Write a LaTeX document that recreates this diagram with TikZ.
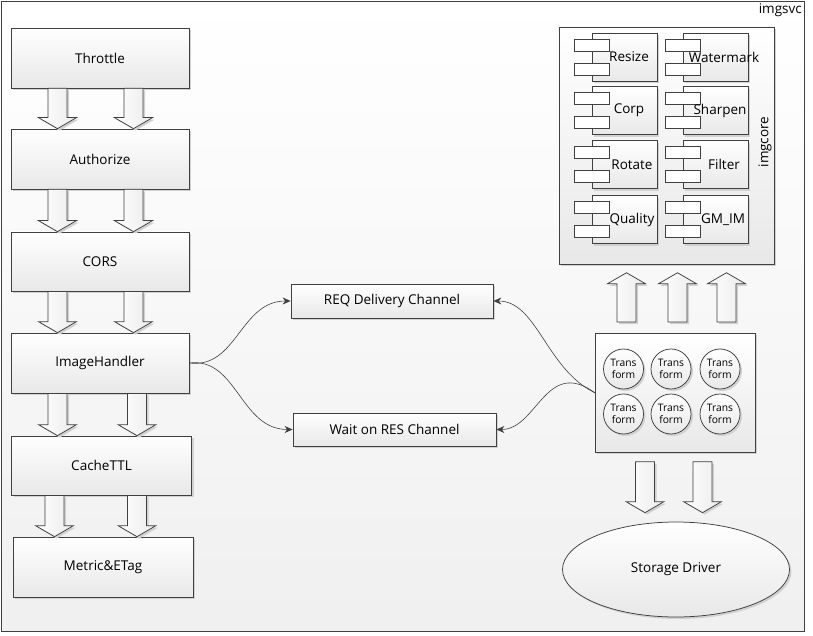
\documentclass[tikz,border=0pt]{standalone}
\usepackage{fontspec}
\setmainfont{Open Sans}
\usetikzlibrary{calc,shadows,shapes.geometric,arrows.meta}
\newcommand\mainfs{\fontsize{13.5}{16}\selectfont}
\tikzset{
  boxfill/.style={top color=white,bottom color=black!9},
  boxline/.style={draw=black!75,line width=0.75pt},
  shad/.style={general shadow={shadow xshift=2pt,shadow yshift=-2pt,fill=black!18}},
  blockbox/.style={boxline,boxfill,shad,rectangle,inner sep=0pt,font=\mainfs},
  chanbox/.style={boxline,boxfill,shad,rectangle,inner sep=0pt,font=\mainfs},
  compbody/.style={boxline,boxfill,shad,rectangle,inner sep=0pt,minimum width=65pt,minimum height=48pt,anchor=north west},
  comptab/.style={boxline,fill=white,rectangle,inner sep=0pt,minimum width=35pt,minimum height=12pt,anchor=north west},
  complabel/.style={inner sep=0pt,font=\mainfs},
  tfcircle/.style={boxline,boxfill,shad,circle,minimum size=40pt,inner sep=0pt,align=center,font=\fontsize{10.3}{12}\selectfont},
  fat/.style={draw=black!75,line width=0.75pt,left color=white,right color=black!8,shad},
  conn/.style={draw=black!75,line width=0.6pt,-{Stealth[length=8pt,width=7pt]}},
}
% fat arrow downward: #1 x, #2 upper node, #3 lower node, #4 gap top, #5 gap bottom
\newcommand\fatdown[5]{%
  \path[fat] let \p1=(#2.south), \p2=(#3.north) in
    ({#1pt-9.5pt},{\y1-#4pt}) -- ({#1pt+9.5pt},{\y1-#4pt}) -- ({#1pt+9.5pt},{\y2+#5pt+11pt})
    -- ({#1pt+19pt},{\y2+#5pt+11pt}) -- ({#1pt},{\y2+#5pt}) -- ({#1pt-19pt},{\y2+#5pt+11pt})
    -- ({#1pt-9.5pt},{\y2+#5pt+11pt}) -- cycle;}
% fat arrow upward: #1 x, #2 lower node, #3 upper node, #4 gap bottom, #5 gap top
\newcommand\fatup[5]{%
  \path[fat] let \p1=(#2.north), \p2=(#3.south) in
    ({#1pt-9.5pt},{\y1+#4pt}) -- ({#1pt+9.5pt},{\y1+#4pt}) -- ({#1pt+9.5pt},{\y2-#5pt-11pt})
    -- ({#1pt+19pt},{\y2-#5pt-11pt}) -- ({#1pt},{\y2-#5pt}) -- ({#1pt-19pt},{\y2-#5pt-11pt})
    -- ({#1pt-9.5pt},{\y2-#5pt-11pt}) -- cycle;}
\newcommand\comp[3]{% #1 name, #2 x, #3 y
  \node[compbody] (#1) at (#2,#3) {};
  \node[comptab] (#1a) at ($(#1.north west)+(-18,6)$) {};
  \node[comptab] (#1b) at ($(#1.north west)+(-18,30)$) {};}
\begin{document}
\begin{tikzpicture}[x=1pt,y=-1pt]
\useasboundingbox (0,0) rectangle (813,636);
% outer frame
\node[draw=black!75,line width=0.75pt,top color=white,bottom color=black!6,rectangle,inner sep=0pt,
  minimum width=803pt,minimum height=630pt,anchor=north west] (svc) at (1,1) {};
\node[anchor=north east,inner sep=0pt,font=\mainfs] (svclabel) at (802,3) {imgsvc};
% left column
\node[blockbox,minimum width=178pt,minimum height=60pt] (thr) at (100,58) {Throttle};
\node[blockbox,minimum width=178pt,minimum height=60pt] (aut) at (100,159) {Authorize};
\node[blockbox,minimum width=178pt,minimum height=59pt] (cors) at (100,261.5) {CORS};
\node[blockbox,minimum width=178pt,minimum height=60pt] (ih) at (100,363) {ImageHandler};
\node[blockbox,minimum width=180pt,minimum height=59pt] (ttl) at (101.5,465.5) {CacheTTL};
\node[blockbox,minimum width=180pt,minimum height=60pt] (met) at (103,567) {Metric\&ETag};
\fatdown{57.5}{thr}{aut}{0}{0}
\fatdown{133.5}{thr}{aut}{0}{0}
\fatdown{57.5}{aut}{cors}{0}{0}
\fatdown{133.5}{aut}{cors}{0}{0}
\fatdown{57.5}{cors}{ih}{0}{0}
\fatdown{133.5}{cors}{ih}{0}{0}
\fatdown{57.5}{ih}{ttl}{0}{0}
\fatdown{137}{ih}{ttl}{0}{0}
\fatdown{54.5}{ttl}{met}{0}{0}
\fatdown{137}{ttl}{met}{0}{0}
% channels
\node[chanbox,minimum width=202pt,minimum height=34pt] (req) at (392,301) {REQ Delivery Channel};
\node[chanbox,minimum width=203pt,minimum height=33pt] (res) at (394.5,429.5) {Wait on RES Channel};
% imgcore
\node[boxline,boxfill,shad,rectangle,inner sep=0pt,minimum width=215pt,minimum height=237pt,anchor=north west] (core) at (559,27) {};
\node[rotate=90,inner sep=0pt,font=\mainfs] (corelabel) at (765,142) {imgcore};
\comp{cres}{592}{33}
\comp{cwat}{683}{33}
\comp{ccor}{592}{86.5}
\comp{csha}{683}{86.5}
\comp{crot}{592}{140.5}
\comp{cfil}{683}{140.5}
\comp{cqua}{592}{195.5}
\comp{cgm}{683}{195.5}
\node[complabel] (lres) at (629,57) {Resize};
\node[complabel] (lwat) at (724,57) {Watermark};
\node[complabel] (lcor) at (629,110.5) {Corp};
\node[complabel] (lsha) at (720,110.5) {Sharpen};
\node[complabel] (lrot) at (632,164.5) {Rotate};
\node[complabel] (lfil) at (724,164.5) {Filter};
\node[complabel] (lqua) at (632,219.5) {Quality};
\node[complabel] (lgm) at (723,219.5) {GM\_IM};
% transform pool
\node[boxline,boxfill,shad,rectangle,inner sep=0pt,minimum width=160pt,minimum height=119pt,anchor=north west] (pool) at (595,333) {};
\node[tfcircle] (t1) at (623.5,369) {Trans\\form};
\node[tfcircle] (t2) at (671,369) {Trans\\form};
\node[tfcircle] (t3) at (720,369) {Trans\\form};
\node[tfcircle] (t4) at (623.5,414) {Trans\\form};
\node[tfcircle] (t5) at (671,414) {Trans\\form};
\node[tfcircle] (t6) at (720,414) {Trans\\form};
% storage
\node[boxline,boxfill,shad,ellipse,inner sep=0pt,minimum width=227pt,minimum height=95pt,font=\mainfs] (sto) at (676,569.5) {Storage Driver};
% fat arrows right
\fatup{626.5}{pool}{core}{11}{8}
\fatup{677.5}{pool}{core}{11}{8}
\fatup{726.5}{pool}{core}{11}{8}
\fatdown{645}{pool}{sto}{9}{9}
\fatdown{702.5}{pool}{sto}{9}{9}
% curved connectors
\draw[conn] (ih.east) .. controls (237,369) and (240,301) .. (req.west);
\draw[conn] (ih.east) .. controls (237,357) and (240,429.5) .. (res.west);
\draw[conn] (pool.west) .. controls (546,369) and (537,301) .. (req.east);
\draw[conn] (pool.west) .. controls (546,357) and (537,429.5) .. (res.east);
\end{tikzpicture}
\end{document}
